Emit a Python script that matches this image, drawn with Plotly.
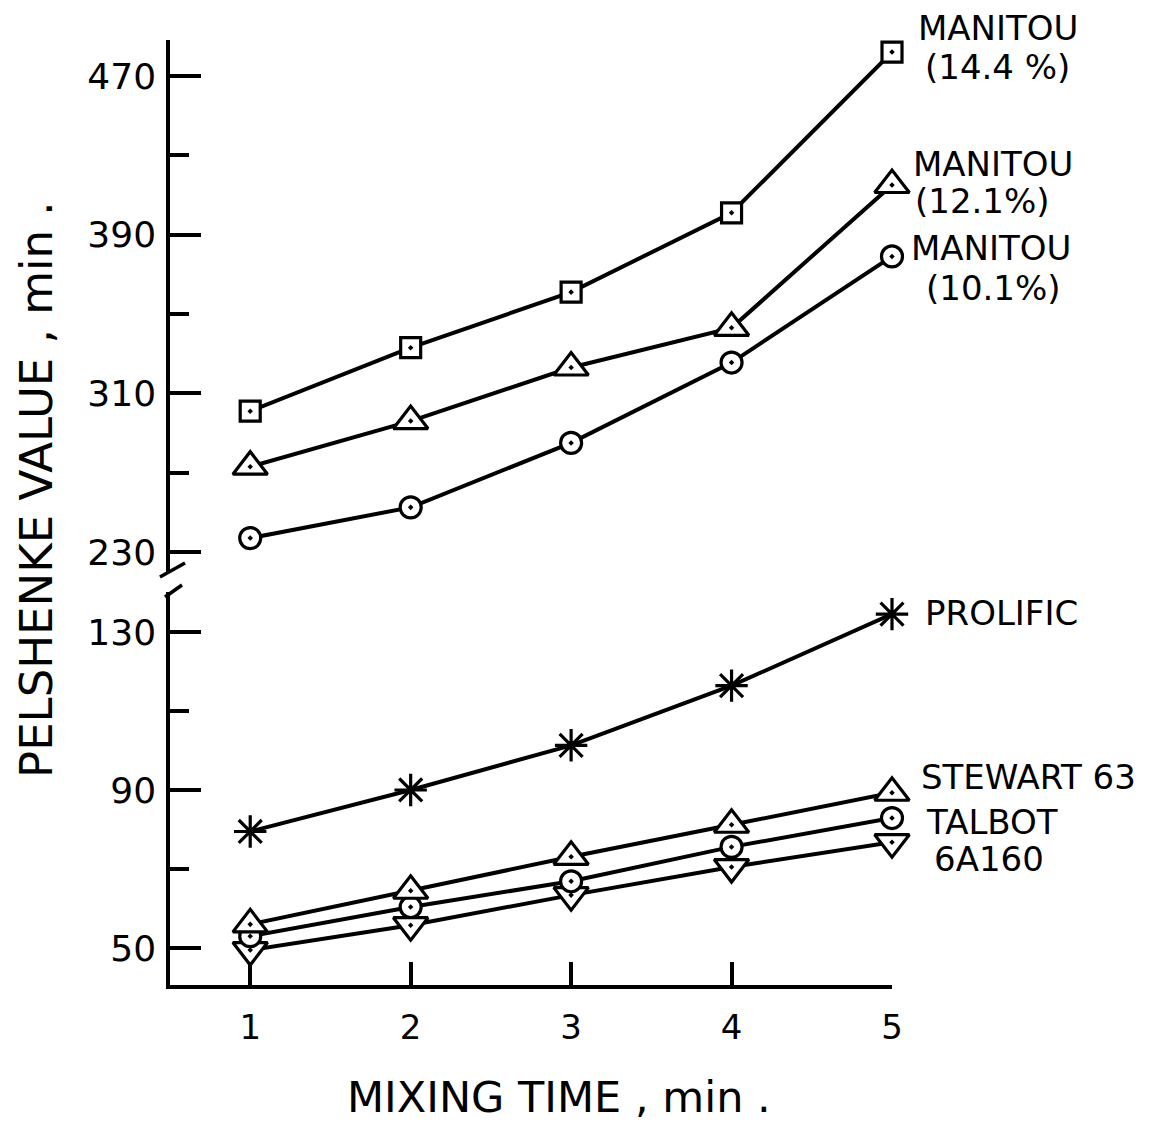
import plotly.graph_objects as go

# Mixing time (min)
mixing_time = [1, 2, 3, 4, 5]

# Upper panel: Manitou at three protein levels
manitou_144 = [301, 333, 361, 401, 482]
manitou_121 = [273, 296, 323, 343, 415]
manitou_101 = [237, 252.5, 285, 325.5, 379]

# Lower panel: other varieties
prolific = [79.5, 90, 101.3, 116.4, 134.5]
stewart_63 = [56, 64.5, 73.1, 81.2, 89.3]
talbot = [53, 60.4, 66.9, 75.6, 82.9]
six_a_160 = [49.5, 55.8, 63.4, 70.5, 76.8]

# Axis ticks
x_ticks = [1, 2, 3, 4, 5]
upper_major = [230, 310, 390, 470]
upper_minor = [270, 350, 430]
lower_major = [50, 90, 130]
lower_minor = [70, 110]

FONT = "DejaVu Sans"
INK = "black"

fig = go.Figure()

def add_series(y, axis, symbol, size):
    open_symbol = symbol.endswith("-open")
    fig.add_trace(go.Scatter(
        x=mixing_time, y=y, yaxis=axis, mode="lines+markers",
        line=dict(color=INK, width=4),
        marker=dict(symbol=symbol, size=size,
                    color=INK if open_symbol else "white",
                    line=dict(color=INK, width=3.2)),
        cliponaxis=False, showlegend=False, hoverinfo="x+y",
    ))

add_series(manitou_144, "y2", "square-dot", 20)
add_series(manitou_121, "y2", "triangle-up-dot", 30)
add_series(manitou_101, "y2", "circle-dot", 21)
add_series(prolific, "y", "asterisk-open", 27)
add_series(six_a_160, "y", "triangle-down-dot", 30)
add_series(talbot, "y", "circle-dot", 21)
add_series(stewart_63, "y", "triangle-up-dot", 30)

axis_common = dict(
    showline=True, linecolor=INK, linewidth=3.5,
    showgrid=False, zeroline=False,
    ticks="inside", ticklen=31, tickwidth=3.5, tickcolor=INK,
    tickfont=dict(family=FONT, size=36, color=INK),
)

fig.update_layout(
    width=1153, height=1122,
    margin=dict(l=170, r=261, t=40, b=137),
    paper_bgcolor="white", plot_bgcolor="white",
    xaxis=dict(
        range=[0.5, 5.0], tickvals=x_ticks, ticktext=[str(v) for v in x_ticks],
        showline=True, linecolor=INK, linewidth=3.5, showgrid=False, zeroline=False,
        ticks="inside", ticklen=23, tickwidth=3.5, tickcolor=INK,
        tickfont=dict(family=FONT, size=34, color=INK),
        ticklabelstandoff=9, anchor="y",
    ),
    yaxis=dict(
        domain=[0, 0.4159], range=[40.66, 140.1],
        tickvals=lower_major, ticktext=[str(v) for v in lower_major],
        minor=dict(tickvals=lower_minor, ticks="inside", ticklen=19,
                   tickwidth=3.5, tickcolor=INK, showgrid=False),
        ticklabelstandoff=3, anchor="x", **axis_common,
    ),
    yaxis2=dict(
        domain=[0.437, 1], range=[219.9, 488.1],
        tickvals=upper_major, ticktext=[str(v) for v in upper_major],
        minor=dict(tickvals=upper_minor, ticks="inside", ticklen=19,
                   tickwidth=3.5, tickcolor=INK, showgrid=False),
        ticklabelstandoff=3, anchor="x", **axis_common,
    ),
)

# Axis break marks on the y axis
for x0, y0, x1, y1 in [(-0.0139, 0.4317, 0.0208, 0.4466),
                       (-0.0069, 0.4106, 0.0166, 0.4233)]:
    fig.add_shape(type="line", xref="paper", yref="paper",
                  x0=x0, y0=y0, x1=x1, y1=y1,
                  line=dict(color=INK, width=3.5))

# Series labels beside the line ends:
# (text, axis, y value, horizontal shift of centre in px, vertical shift in px)
labels = [
    ("MANITOU", "y2", 482, 106, 24),
    ("(14.4 %)", "y2", 482, 105, -15),
    ("MANITOU", "y2", 425.7, 101, 0),
    ("(12.1%)", "y2", 407, 90, 0),
    ("MANITOU", "y2", 383.5, 99, 0),
    ("(10.1%)", "y2", 363.3, 101, 0),
    ("PROLIFIC", "y", 134.8, 109, 0),
    ("STEWART 63", "y", 93.4, 136, 0),
    ("TALBOT", "y", 81.8, 100, 0),
    ("6A160", "y", 72.5, 97, 0),
]
for text, axis, yv, xs, ys in labels:
    fig.add_annotation(
        x=5, y=yv, xref="x", yref=axis, text=text, showarrow=False,
        xanchor="center", yanchor="middle", xshift=xs, yshift=ys,
        font=dict(family=FONT, size=34, color=INK),
    )

# Axis titles
fig.add_annotation(
    x=0.539, y=-0.1185, xref="paper", yref="paper",
    text="MIXING TIME , min .", showarrow=False,
    xanchor="center", yanchor="middle",
    font=dict(family=FONT, size=43, color=INK),
)
fig.add_annotation(
    x=-0.184, y=0.524, xref="paper", yref="paper",
    text="PELSHENKE VALUE , min .", showarrow=False, textangle=-90,
    xanchor="center", yanchor="middle",
    font=dict(family=FONT, size=45, color=INK),
)

fig.write_html("out.html")
